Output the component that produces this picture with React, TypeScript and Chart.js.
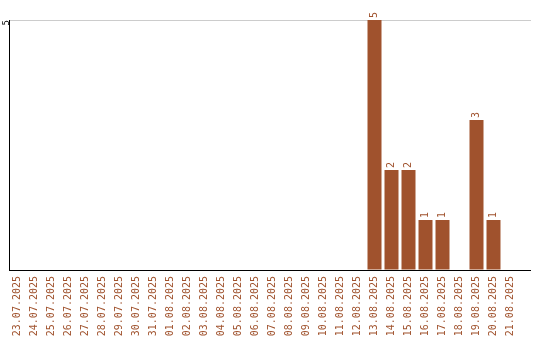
import React, { useEffect, useRef } from "react";
import { Chart, registerables } from "chart.js";

Chart.register(...registerables);

const categories = [
  "23.07.2025", "24.07.2025", "25.07.2025", "26.07.2025", "27.07.2025",
  "28.07.2025", "29.07.2025", "30.07.2025", "31.07.2025", "01.08.2025",
  "02.08.2025", "03.08.2025", "04.08.2025", "05.08.2025", "06.08.2025",
  "07.08.2025", "08.08.2025", "09.08.2025", "10.08.2025", "11.08.2025",
  "12.08.2025", "13.08.2025", "14.08.2025", "15.08.2025", "16.08.2025",
  "17.08.2025", "18.08.2025", "19.08.2025", "20.08.2025", "21.08.2025",
];
const values = [
  0, 0, 0, 0, 0, 0, 0, 0, 0, 0,
  0, 0, 0, 0, 0, 0, 0, 0, 0, 0,
  0, 5, 2, 2, 1, 1, 0, 3, 1, 0,
];
const yTicks = [0, 5];

const BAR_COLOR = "#A0522D";
const GRID_COLOR = "#cccccc";
const FONT = "'DejaVu Sans Mono', monospace";
const LINE_END = 531;

const valueLabels = {
  id: "valueLabels",
  afterDatasetsDraw(chart: any) {
    const ctx = chart.ctx;
    const meta = chart.getDatasetMeta(0);
    ctx.save();
    ctx.fillStyle = BAR_COLOR;
    ctx.font = `10px ${FONT}`;
    ctx.textAlign = "left";
    ctx.textBaseline = "middle";
    meta.data.forEach((bar: any, i: number) => {
      const v = values[i];
      if (!v) return;
      ctx.save();
      ctx.translate(bar.x, bar.y - 2);
      ctx.rotate(-Math.PI / 2);
      ctx.fillText(String(v), 0, 0);
      ctx.restore();
    });
    ctx.restore();
  },
};

const extendLines = {
  id: "extendLines",
  afterDraw(chart: any) {
    const ctx = chart.ctx;
    const area = chart.chartArea;
    const yScale = chart.scales.y;
    ctx.save();
    ctx.lineWidth = 1;
    const yTop = Math.round(yScale.getPixelForValue(yTicks[yTicks.length - 1])) + 0.5;
    ctx.strokeStyle = GRID_COLOR;
    ctx.beginPath();
    ctx.moveTo(area.right, yTop);
    ctx.lineTo(LINE_END, yTop);
    ctx.stroke();
    const yBot = Math.round(area.bottom) + 0.5;
    ctx.strokeStyle = "#000";
    ctx.beginPath();
    ctx.moveTo(area.right - 1, yBot);
    ctx.lineTo(LINE_END, yBot);
    ctx.stroke();
    ctx.restore();
  },
};

export default function App() {
  const ref = useRef<HTMLCanvasElement>(null);
  useEffect(() => {
    document.body.style.margin = "0";
    const chart = new Chart(ref.current!, {
      type: "bar",
      data: {
        labels: categories,
        datasets: [
          {
            data: values,
            backgroundColor: BAR_COLOR,
            barPercentage: 1,
            categoryPercentage: 14 / 17,
          },
        ],
      },
      options: {
        animation: false,
        responsive: false,
        maintainAspectRatio: false,
        layout: { padding: { top: 20, right: 21, left: 0, bottom: 0 } },
        plugins: { legend: { display: false }, tooltip: { enabled: false } },
        scales: {
          x: {
            grid: { display: false, drawTicks: false },
            border: { color: "#000", width: 1 },
            ticks: {
              color: BAR_COLOR,
              font: { family: FONT, size: 10 },
              minRotation: 90,
              maxRotation: 90,
              autoSkip: false,
              padding: 6,
            },
            afterFit: (s: any) => {
              s.height = 70;
            },
          },
          y: {
            min: 0,
            max: 5,
            afterBuildTicks: (s: any) => {
              s.ticks = yTicks.map((v) => ({ value: v }));
            },
            grid: { color: GRID_COLOR, drawTicks: false },
            border: { color: "#000", width: 1 },
            ticks: {
              color: "#000",
              font: { family: FONT, size: 9 },
              minRotation: 90,
              maxRotation: 90,
              padding: 2,
              callback: (v: any) => (v === 0 ? "" : String(v)),
            },
            afterFit: (s: any) => {
              s.width = 9;
            },
          },
        },
      },
      plugins: [valueLabels, extendLines],
    });
    return () => chart.destroy();
  }, []);
  return (
    <div style={{ position: "fixed", left: 0, top: 0, width: 540, height: 340 }}>
      <canvas ref={ref} width={540} height={340} />
    </div>
  );
}
